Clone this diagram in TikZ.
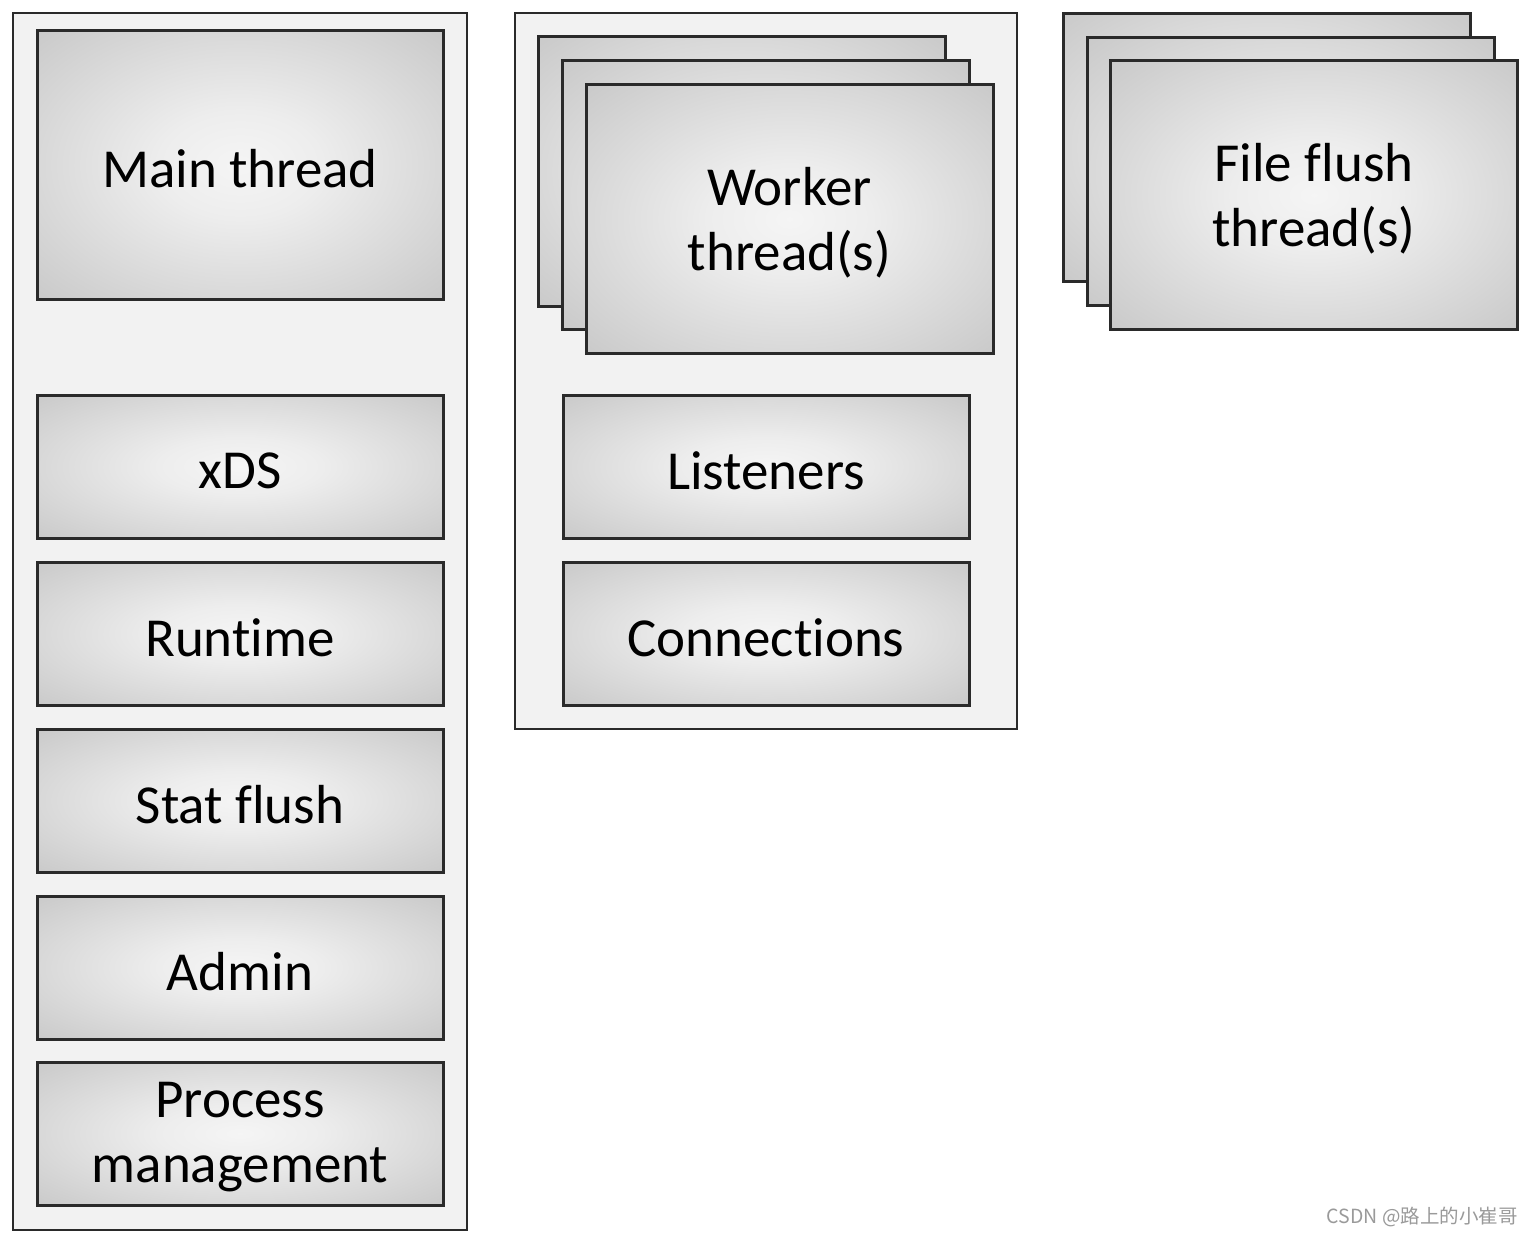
\documentclass[tikz,border=0pt]{standalone}
\usepackage{fontspec}
\setmainfont[Ligatures={NoCommon}]{Carlito}
\newfontfamily\cjk{Noto Sans CJK SC}
\definecolor{contfill}{HTML}{F2F2F2}
\definecolor{edge}{HTML}{2A2A2A}
\definecolor{wmgray}{HTML}{9A9A9A}
\pgfdeclareradialshading{boxshade}{\pgfpoint{0bp}{0bp}}{%
  color(0bp)=(white!96!black); color(10bp)=(white!93!black);
  color(50bp)=(white!71!black); color(72bp)=(white!64!black)}
\tikzset{
  cont/.style={draw=edge, fill=contfill, line width=2pt, rectangle, inner sep=0pt},
  box/.style={draw=edge, line width=3pt, rectangle, shading=boxshade, inner sep=0pt},
  big/.style={box, minimum width=406pt, minimum height=268pt},
  small/.style={box, minimum width=406pt, minimum height=143pt},
  lbl/.style={inner sep=0pt, align=center, font=\fontsize{55}{65}\selectfont, text=black, yshift=-4pt},
}
\begin{document}
\begin{tikzpicture}[x=1pt,y=-1pt]
\useasboundingbox[fill=white] (0,0) rectangle (1534,1236);
% containers
\node[cont, minimum width=454pt, minimum height=1217pt] (leftc) at (240,621.5) {};
\node[cont, minimum width=502pt, minimum height=716pt] (midc) at (766,371) {};
% left column
\node[big] (main) at (240,165) {};
\node[small] (xds) at (240,466.5) {};
\node[small] (runtime) at (240,633.5) {};
\node[small] (stat) at (240,800.5) {};
\node[small] (admin) at (240,967.5) {};
\node[small] (proc) at (240,1133.5) {};
\node[lbl] (mainl) at (main.center) {Main thread};
\node[lbl] (xdsl) at (xds.center) {xDS};
\node[lbl] (runtimel) at (runtime.center) {Runtime};
\node[lbl] (statl) at (stat.center) {Stat flush};
\node[lbl] (adminl) at (admin.center) {Admin};
\node[lbl] (procl) at (proc.center) {Process\\management};
% worker stack
\node[big, minimum width=407pt, minimum height=269pt] (w1) at (741.5,171.5) {};
\node[big, minimum width=407pt, minimum height=269pt] (w2) at (766,195) {};
\node[big, minimum width=407pt, minimum height=269pt] (w3) at (789.5,219) {};
\node[lbl] (w3l) at (w3.center) {Worker\\thread(s)};
\node[small] (listen) at (766,466.5) {};
\node[small] (conn) at (766,633.5) {};
\node[lbl] (listenl) at (listen.center) {Listeners};
\node[lbl] (connl) at (conn.center) {Connections};
% file flush stack
\node[big, minimum width=407pt] (f1) at (1266.5,147.5) {};
\node[big, minimum width=407pt] (f2) at (1290.5,171.5) {};
\node[big, minimum width=407pt] (f3) at (1314,195) {};
\node[lbl] (f3l) at (f3.center) {File flush\\thread(s)};
% watermark
\node[anchor=east, inner sep=0pt, text=wmgray, font=\cjk\fontsize{19.5}{21}\selectfont] (wm) at (1518,1217) {CSDN @路上的小崔哥};
\end{tikzpicture}
\end{document}
